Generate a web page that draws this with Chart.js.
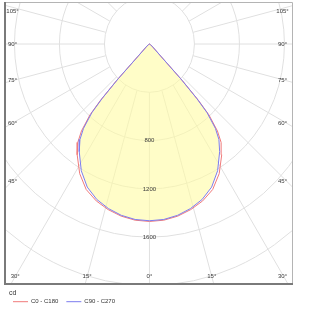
<!DOCTYPE html>
<html>
<head>
<meta charset="utf-8">
<script src="https://cdn.jsdelivr.net/npm/chart.js@4.4.1/dist/chart.umd.min.js"></script>
<style>
  html, body { margin: 0; padding: 0; background: #fff; }
  #wrap { width: 310px; height: 310px; }
</style>
</head>
<body>
<div id="wrap"><canvas id="lightChart"></canvas></div>
<script>
// gamma angle in degrees (0 = straight down) and luminous intensity in cd
const gammaAngles = [0, 5, 10, 15, 20, 25, 30, 35, 38, 40, 42, 43, 44, 45, 50, 60, 90];
const c0c180 = [1470, 1465, 1448, 1420, 1383, 1330, 1240, 1120, 1035, 940, 790, 640, 420, 150, 40, 10, 0];
const c90c270 = [1464, 1459, 1441, 1411, 1370, 1308, 1212, 1088, 1003, 912, 765, 615, 400, 140, 38, 10, 0];
const seriesNames = ['C0 - C180', 'C90 - C270'];

// grid: rings in cd, labelled rings, angle labels
const ringValues = [400, 800, 1200, 1600, 2000, 2400, 2800];
const ringLabels = [800, 1200, 1600];
const angleLabels = [0, 15, 30, 45, 60, 75, 90, 105];

const FONT = '"Liberation Sans", Arial, sans-serif';

// polar curve -> x/y values, left half then right half
function toPoints(values) {
    const pts = [];
    for (let i = gammaAngles.length - 1; i >= 0; i--) {
        const g = gammaAngles[i] * Math.PI / 180;
        pts.push({ x: -values[i] * Math.sin(g), y: -values[i] * Math.cos(g) });
    }
    for (let i = 1; i < gammaAngles.length; i++) {
        const g = gammaAngles[i] * Math.PI / 180;
        pts.push({ x: values[i] * Math.sin(g), y: -values[i] * Math.cos(g) });
    }
    return pts;
}

// Polar grid, fill and labels
const polarGrid = {
    id: 'polarGrid',
    beforeDatasetsDraw(chart) {
        const { ctx, chartArea: a, scales: { x, y } } = chart;
        const cx = x.getPixelForValue(0), cy = y.getPixelForValue(0);
        ctx.save();
        ctx.beginPath();
        ctx.rect(a.left, a.top, a.right - a.left, a.bottom - a.top);
        ctx.clip();
        ctx.strokeStyle = '#e0e0e0';
        ctx.lineWidth = 1;
        ringValues.forEach(r => {
            const rx = x.getPixelForValue(r) - cx, ry = cy - y.getPixelForValue(r);
            ctx.beginPath();
            ctx.ellipse(cx, cy, rx, ry, 0, 0, Math.PI * 2);
            ctx.stroke();
        });
        // rays start at the first ring
        const rx0 = x.getPixelForValue(ringValues[0]) - cx, ry0 = cy - y.getPixelForValue(ringValues[0]);
        for (let deg = 0; deg < 360; deg += 15) {
            const t = deg * Math.PI / 180, s = Math.sin(t), c = Math.cos(t);
            const r0 = 1 / Math.sqrt((s / rx0) ** 2 + (c / ry0) ** 2);
            ctx.beginPath();
            ctx.moveTo(cx + r0 * s, cy + r0 * c);
            ctx.lineTo(cx + 600 * s, cy + 600 * c);
            ctx.stroke();
        }
        // yellow area inside the C90 - C270 curve
        const pts = chart.getDatasetMeta(1).data;
        ctx.beginPath();
        pts.forEach((p, i) => i ? ctx.lineTo(p.x, p.y) : ctx.moveTo(p.x, p.y));
        ctx.closePath();
        ctx.fillStyle = 'rgba(255,252,163,0.6)';
        ctx.fill();
        ctx.restore();
    },
    afterDatasetsDraw(chart) {
        const { ctx, chartArea: a, scales: { x, y } } = chart;
        const cx = x.getPixelForValue(0), cy = y.getPixelForValue(0);
        ctx.save();
        ctx.font = '6px ' + FONT;
        ctx.fillStyle = '#3a3a3a';
        ctx.textAlign = 'center';
        ctx.textBaseline = 'middle';

        ringLabels.forEach(r => {
            ctx.fillText(String(r), cx, y.getPixelForValue(-r));
        });

        const xl = a.left + 7.5, xr = a.right - 10.5, yb = a.bottom - 7.5, yt = a.top + 9;
        const sideDist = cx - xl;
        angleLabels.forEach(deg => {
            const t = deg * Math.PI / 180;
            [-1, 1].forEach(side => {
                if (deg === 0 && side === 1) return;
                let px, py;
                if (deg < 45) {
                    py = yb;
                    px = cx + side * (yb - cy) * Math.tan(t);
                    px = Math.min(Math.max(px, xl), xr);
                } else {
                    px = side < 0 ? xl : xr;
                    py = cy + sideDist * Math.cos(t) / Math.sin(t);
                    py = Math.max(py, yt);
                }
                ctx.fillText(deg + '°', px, py);
            });
        });

        // frame
        ctx.strokeStyle = '#b4b4b4';
        ctx.lineWidth = 1;
        ctx.beginPath();
        ctx.moveTo(a.left, a.top + 0.5);
        ctx.lineTo(a.right - 0.5, a.top + 0.5);
        ctx.lineTo(a.right - 0.5, a.bottom);
        ctx.stroke();
        ctx.strokeStyle = '#7a7a7a';
        ctx.lineWidth = 2;
        ctx.beginPath();
        ctx.moveTo(a.left, a.top);
        ctx.lineTo(a.left, a.bottom);
        ctx.lineTo(a.right, a.bottom);
        ctx.stroke();
        ctx.restore();
    }
};

document.addEventListener('DOMContentLoaded', () => {
    new Chart(document.getElementById('lightChart'), {
        type: 'scatter',
        data: {
            datasets: [{
                label: seriesNames[0],
                data: toPoints(c0c180),
                showLine: true,
                borderColor: '#f07a7a',
                backgroundColor: '#f07a7a',
                borderWidth: 1,
                pointRadius: 0,
                tension: 0,
                order: 1
            }, {
                label: seriesNames[1],
                data: toPoints(c90c270),
                showLine: true,
                borderColor: '#7c7cee',
                backgroundColor: '#7c7cee',
                borderWidth: 1,
                pointRadius: 0,
                tension: 0,
                order: 0
            }]
        },
        options: {
            responsive: true,
            maintainAspectRatio: false,
            animation: false,
            layout: { padding: { left: 5, right: 17, top: 2, bottom: -4.7 } },
            scales: {
                x: { type: 'linear', min: -1284, max: 1276, display: false },
                y: { type: 'linear', min: -1988, max: 348, display: false }
            },
            plugins: {
                tooltip: { enabled: false },
                legend: {
                    position: 'bottom',
                    align: 'start',
                    title: {
                        display: true,
                        text: '  cd',
                        position: 'start',
                        color: '#333',
                        font: { size: 7, lineHeight: 1, family: FONT },
                        padding: { top: 5.8, bottom: -6.1 }
                    },
                    labels: {
                        usePointStyle: true,
                        pointStyle: 'line',
                        pointStyleWidth: 15,
                        padding: 8,
                        color: '#333',
                        font: { size: 6, family: FONT },
                        sort: (a, b) => a.datasetIndex - b.datasetIndex
                    }
                }
            }
        },
        plugins: [polarGrid]
    });
});
</script>
</body>
</html>
